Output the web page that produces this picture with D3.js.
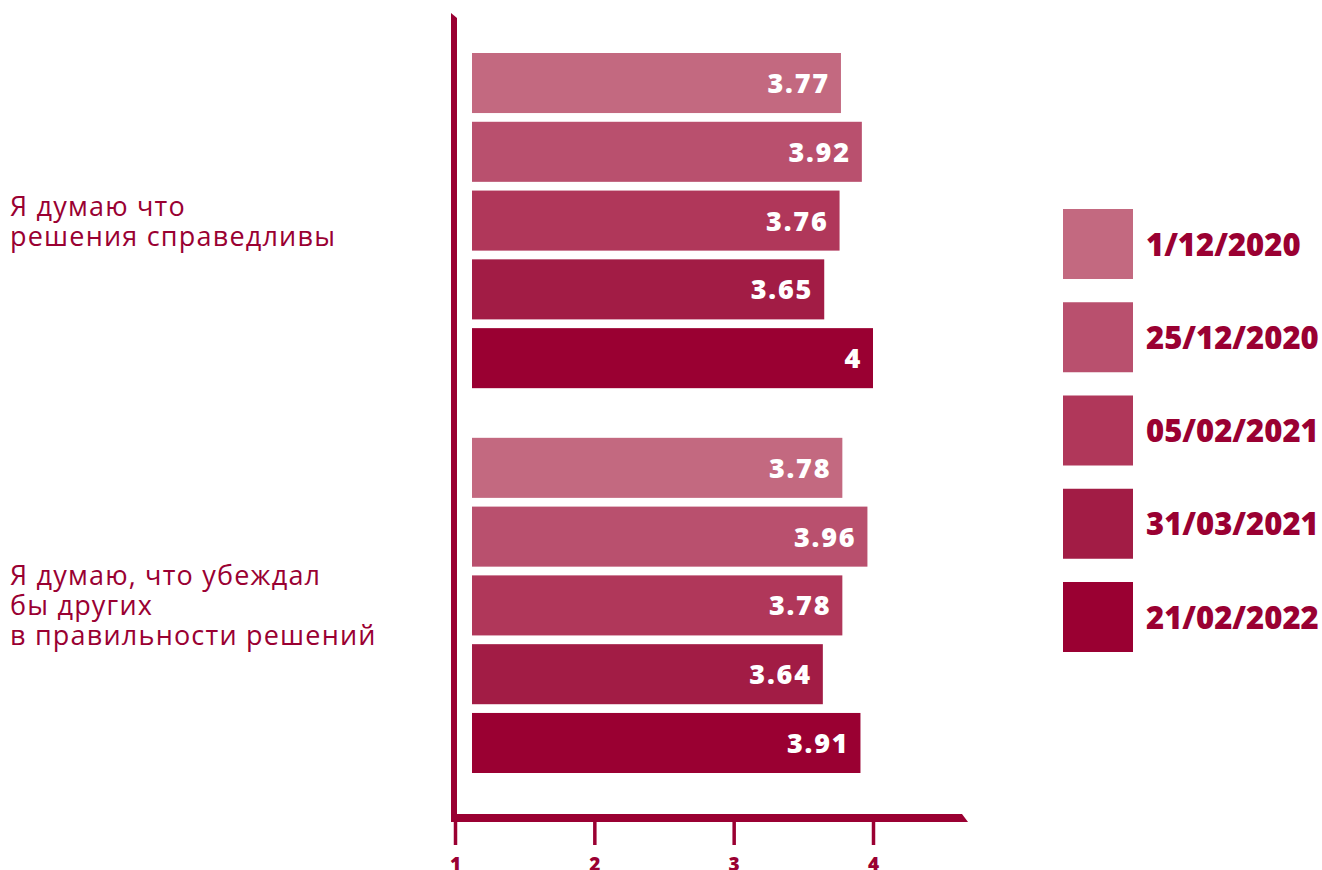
<!DOCTYPE html>
<html>
<head>
<meta charset="utf-8">
<script src="https://cdn.jsdelivr.net/npm/d3@7"></script>
<style>
  html, body { margin: 0; padding: 0; background: #ffffff; }
  svg { display: block; }
</style>
</head>
<body>
<svg id="chart" width="1322" height="870"></svg>
<script>
// ---- data ----
const categories = [
  ["Я думаю что", "решения справедливы"],
  ["Я думаю, что убеждал", "бы других", "в правильности решений"]
];
const categoryKeys = ["fair", "convince"];
const seriesNames = ["1/12/2020", "25/12/2020", "05/02/2021", "31/03/2021", "21/02/2022"];
const valuesFair = [3.77, 3.92, 3.76, 3.65, 4];
const valuesConvince = [3.78, 3.96, 3.78, 3.64, 3.91];
const seriesColors = ["#c36980", "#b9506e", "#b0375a", "#a21c45", "#9a0032"];
const xTicks = [1, 2, 3, 4];

const valuesByCategory = [valuesFair, valuesConvince];
const mainColor = "#9a0032";

// ---- layout ----
const svg = d3.select("#chart");

const x = d3.scaleLinear().domain([1, 4]).range([455, 873]);
const barStart = x(1) + 17;

const yGroup = d3.scaleBand().domain(categoryKeys).range([53, 773]).paddingInner(0.129).paddingOuter(0);
const ySeries = d3.scaleBand().domain(seriesNames).range([0, yGroup.bandwidth()]).paddingInner(0.127).paddingOuter(0);
const color = d3.scaleOrdinal().domain(seriesNames).range(seriesColors);

// ---- bars ----
categoryKeys.forEach((key, gi) => {
  const g = svg.append("g").attr("transform", `translate(0,${yGroup(key)})`);
  const rows = seriesNames.map((s, i) => ({ s, v: valuesByCategory[gi][i] }));
  g.selectAll("rect").data(rows).join("rect")
    .attr("x", barStart)
    .attr("y", d => ySeries(d.s))
    .attr("width", d => x(d.v) - barStart)
    .attr("height", ySeries.bandwidth())
    .attr("fill", d => color(d.s));
  g.selectAll("text").data(rows).join("text")
    .attr("x", d => x(d.v) - 11)
    .attr("y", d => ySeries(d.s) + ySeries.bandwidth() / 2 + 10)
    .attr("text-anchor", "end")
    .attr("fill", "#ffffff")
    .style("font-family", "'Open Sans', sans-serif")
    .style("font-weight", 800)
    .style("font-size", "27px")
    .style("letter-spacing", "1.8px")
    .text(d => String(d.v));

  // category label
  const lines = categories[gi];
  const center = yGroup(key) + yGroup.bandwidth() / 2;
  const lh = 30, cap = 20;
  const top = center - ((lines.length - 1) * lh + cap) / 2;
  const t = svg.append("text")
    .attr("fill", mainColor)
    .style("font-family", "'Open Sans', sans-serif")
    .style("font-size", "27px")
    .style("letter-spacing", "1.2px");
  lines.forEach((ln, li) => {
    t.append("tspan").attr("x", 10).attr("y", top + cap + li * lh).text(ln);
  });
});

// ---- axes ----
const axisTop = 13;
const axisY = 814;
const axisThick = 8;
const axisRight = 968;
// vertical axis with slanted top
svg.append("path")
  .attr("d", `M${x(1) - 4},${axisTop} L${x(1) + 2},${axisTop + 5} L${x(1) + 2},${axisY + axisThick} L${x(1) - 4},${axisY + axisThick} Z`)
  .attr("fill", mainColor);
// horizontal axis with slanted right end
svg.append("path")
  .attr("d", `M${x(1) - 4},${axisY} L${axisRight - 6},${axisY} L${axisRight},${axisY + axisThick} L${x(1) - 4},${axisY + axisThick} Z`)
  .attr("fill", mainColor);

const xAxis = d3.axisBottom(x).tickValues(xTicks).tickSize(23).tickPadding(13).tickFormat(d3.format("d"));
const ax = svg.append("g").attr("transform", `translate(0,${axisY + axisThick})`).call(xAxis);
ax.select(".domain").remove();
ax.selectAll(".tick line").attr("stroke", mainColor).attr("stroke-width", 3.5);
ax.selectAll(".tick text")
  .attr("fill", mainColor)
  .style("font-family", "'Open Sans', sans-serif")
  .style("font-weight", 800)
  .style("font-size", "19px");

// ---- legend ----
const legY = d3.scalePoint().domain(seriesNames).range([209, 582]);
const leg = svg.append("g");
leg.selectAll("rect").data(seriesNames).join("rect")
  .attr("x", 1063).attr("y", d => legY(d))
  .attr("width", 70).attr("height", 70)
  .attr("fill", d => color(d));
leg.selectAll("text").data(seriesNames).join("text")
  .attr("x", 1146).attr("y", d => legY(d) + 35 + 11.5)
  .attr("fill", mainColor)
  .style("font-family", "'Open Sans', sans-serif")
  .style("font-weight", 800)
  .style("font-size", "31px")
  .text(d => d);
</script>
</body>
</html>
